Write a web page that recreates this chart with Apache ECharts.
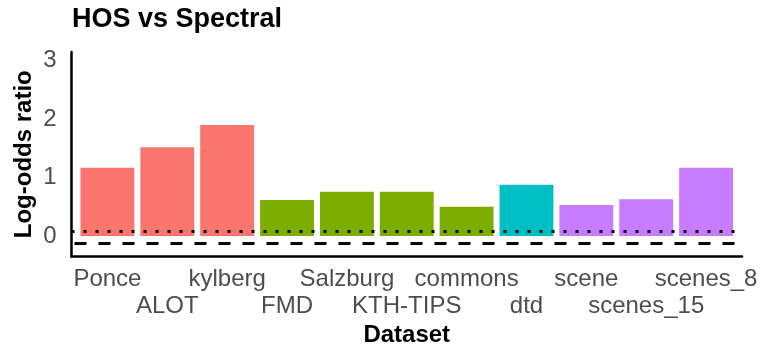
<!DOCTYPE html>
<html>
<head>
<meta charset="utf-8">
<script src="https://cdn.jsdelivr.net/npm/echarts@6/dist/echarts.min.js"></script>
<style>
html,body{margin:0;padding:0;background:#fff;overflow:hidden;}
#chart{width:762px;height:345px;}
</style>
</head>
<body>
<div id="chart"></div>
<script>
const categories = ['Ponce','ALOT','kylberg','FMD','Salzburg','KTH-TIPS','commons','dtd','scene','scenes_15','scenes_8'];
const values = [1.17, 1.52, 1.90, 0.615, 0.76, 0.76, 0.50, 0.88, 0.53, 0.63, 1.17];
const groups = [0, 0, 0, 1, 1, 1, 1, 2, 3, 3, 3];
const groupColors = ['#F8766D', '#7CAE00', '#00BFC4', '#C77CFF'];
const yTicks = [0, 1, 2, 3];
const dottedLine = 0.085;
const dashedLine = -0.115;

const positions = categories.map((_, i) => i);
const evenPos = positions.filter(i => i % 2 === 0);
const oddPos = positions.filter(i => i % 2 === 1);
const FONT = '"Liberation Sans", Arial, Helvetica, sans-serif';

function labelName(v) { return categories[Math.round(v)]; }

const baseX = {
  type: 'value',
  min: -0.6, max: 10.6,
  position: 'bottom',
  axisTick: {show: false},
  splitLine: {show: false}
};

const chart = echarts.init(document.getElementById('chart'), null, {renderer: 'canvas'});
chart.setOption({
  animation: false,
  backgroundColor: '#ffffff',
  title: {
    text: 'HOS vs Spectral',
    left: 72, top: 5, padding: 0,
    textStyle: {fontFamily: FONT, fontSize: 27, fontWeight: 'bold', color: '#000', lineHeight: 30}
  },
  grid: {left: 71.5, right: 20, top: 52, bottom: 88.5, containLabel: false, outerBoundsMode: 'none'},
  xAxis: [
    Object.assign({}, baseX, {
      name: 'Dataset',
      nameLocation: 'middle',
      nameGap: 67,
      nameMoveOverlap: false,
      nameTextStyle: {fontFamily: FONT, fontSize: 24, fontWeight: 'bold', color: '#000', lineHeight: 24},
      axisLine: {show: true, onZero: false, lineStyle: {color: '#000', width: 2.5}},
      axisLabel: {
        customValues: evenPos,
        showMinLabel: true, showMaxLabel: true, hideOverlap: false,
        fontFamily: FONT, fontSize: 24, color: '#4D4D4D', lineHeight: 26, margin: 10,
        formatter: labelName
      }
    }),
    Object.assign({}, baseX, {
      offset: 0,
      axisLine: {show: false, onZero: false},
      axisLabel: {
        customValues: oddPos,
        showMinLabel: true, showMaxLabel: true, hideOverlap: false,
        fontFamily: FONT, fontSize: 24, color: '#4D4D4D', lineHeight: 26, margin: 37,
        formatter: labelName
      }
    })
  ],
  yAxis: {
    type: 'value',
    min: -0.35, max: 3.15,
    name: 'Log-odds ratio',
    nameLocation: 'middle',
    nameRotate: 90,
    nameGap: 35,
    nameMoveOverlap: false,
    nameTextStyle: {fontFamily: FONT, fontSize: 24, fontWeight: 'bold', color: '#000', lineHeight: 24},
    axisLine: {show: true, onZero: false, lineStyle: {color: '#000', width: 2.5}},
    axisTick: {show: false},
    splitLine: {show: false},
    axisLabel: {
      customValues: yTicks,
      showMinLabel: true, showMaxLabel: true,
      fontFamily: FONT, fontSize: 24, color: '#4D4D4D', margin: 15,
      padding: [4, 0, 0, 0]
    }
  },
  series: [{
    type: 'bar',
    xAxisIndex: 0,
    barWidth: '90%',
    data: values.map((v, i) => ({value: [positions[i], v], itemStyle: {color: groupColors[groups[i]]}})),
    markLine: {
      silent: true,
      symbol: ['none', 'none'],
      label: {show: false},
      data: [
        {yAxis: dottedLine, lineStyle: {color: '#000', width: 3, type: [3, 9], cap: 'butt'}},
        {yAxis: dashedLine, lineStyle: {color: '#000', width: 3, type: [12, 12], dashOffset: -3, cap: 'butt'}}
      ]
    }
  }]
});
</script>
</body>
</html>
